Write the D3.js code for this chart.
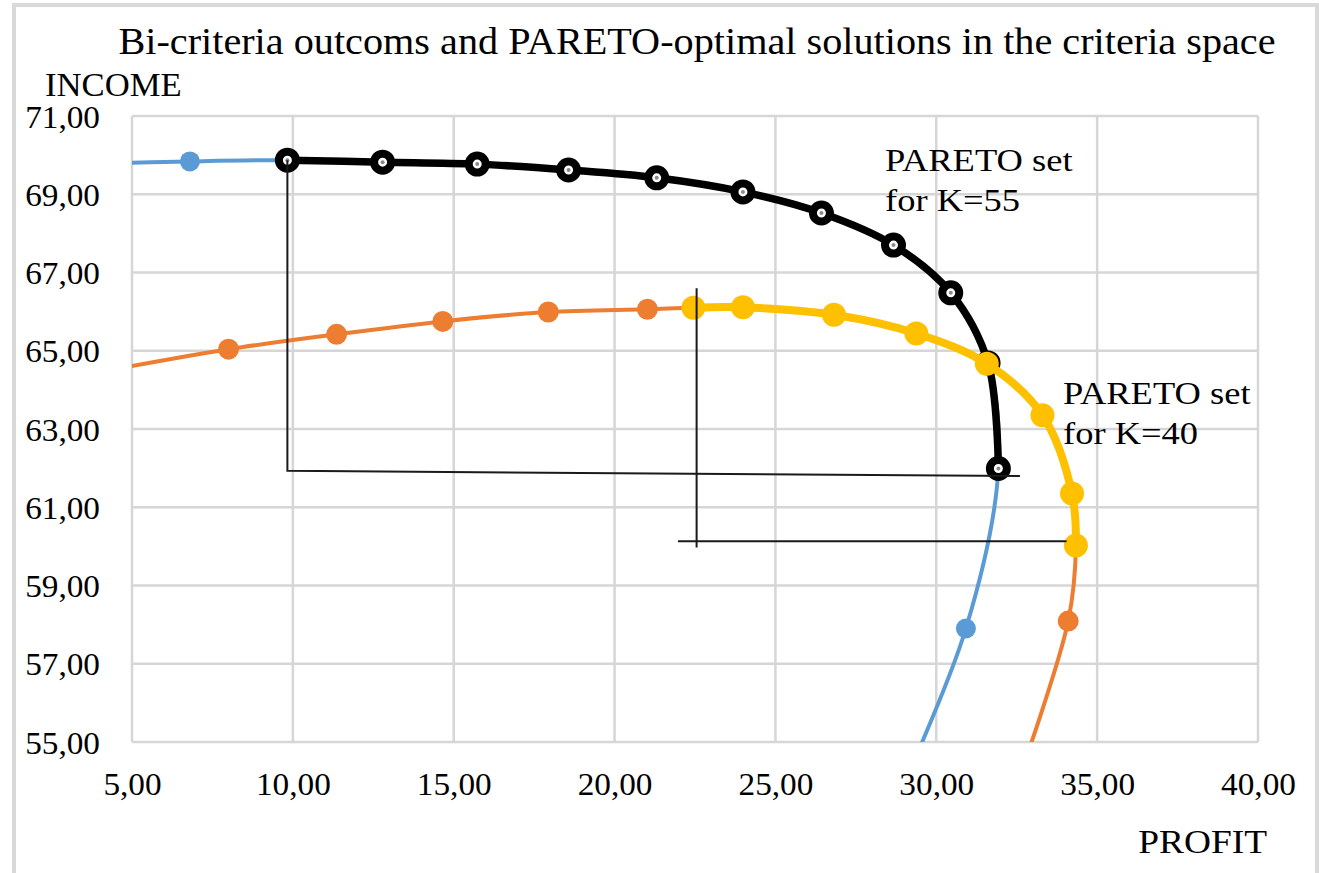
<!DOCTYPE html>
<html><head><meta charset="utf-8">
<script src="https://cdn.jsdelivr.net/npm/d3@7"></script>
<style>
html,body{margin:0;padding:0;background:#fff;}
svg{display:block;}
text{font-family:"Liberation Serif","Times New Roman",serif;fill:#000;}
</style></head><body>
<svg id="chart" width="1319" height="873"></svg>
<script>
// Axis ticks
const xTicks = [5, 10, 15, 20, 25, 30, 35, 40];
const yTicks = [55, 57, 59, 61, 63, 65, 67, 69, 71];

// Outcomes for K=55 (PROFIT, INCOME)
const k55Profit = [3.8, 6.80, 9.83, 12.79, 15.73, 18.57, 21.31, 23.99, 26.43, 28.67, 30.45, 31.61, 31.93, 30.92, 28.6];
const k55Income = [69.78, 69.84, 69.87, 69.82, 69.77, 69.62, 69.42, 69.06, 68.52, 67.70, 66.48, 64.69, 61.99, 57.90, 53.2];
// index range of the PARETO set inside the K=55 outcomes
const k55Pareto = [2, 12];

// Outcomes for K=40 (PROFIT, INCOME)
const k40Profit = [4.6, 8.00, 11.36, 14.66, 17.94, 21.02, 22.45, 23.99, 26.82, 29.38, 31.57, 33.30, 34.22, 34.34, 34.10, 32.5];
const k40Income = [64.55, 65.04, 65.42, 65.75, 65.99, 66.06, 66.10, 66.11, 65.92, 65.44, 64.67, 63.35, 61.35, 60.02, 58.09, 53.9];
const k40Pareto = [6, 13];

// Reference corners (guide lines)
const guide55Profit = [9.83, 9.83, 32.6];
const guide55Income = [69.87, 61.93, 61.80];
const guide40VProfit = [22.55, 22.55];
const guide40VIncome = [66.6, 59.97];
const guide40HProfit = [21.97, 34.05];
const guide40HIncome = [60.13, 60.13];

const titleText = "Bi-criteria outcoms and PARETO-optimal solutions in the criteria space";
const xTitle = "PROFIT";
const yTitle = "INCOME";
const label55 = ["PARETO set", "for K=55"];
const label40 = ["PARETO set", "for K=40"];

const svg = d3.select("#chart");
const W = 1319, H = 873;
const plot = {left: 132, right: 1258, top: 116, bottom: 742};

const x = d3.scaleLinear().domain([5, 40]).range([plot.left, plot.right]);
const y = d3.scaleLinear().domain([55, 71]).range([plot.bottom, plot.top]);
const fmt = d => d.toFixed(2).replace(".", ",");

// widen glyphs horizontally by a factor, keeping the anchor
function widen(sel, factor) {
  sel.each(function () {
    const len = this.getComputedTextLength();
    d3.select(this).attr("textLength", len * factor).attr("lengthAdjust", "spacingAndGlyphs");
  });
}

// outer frame
svg.append("rect").attr("x", 14).attr("y", 5).attr("width", W - 16).attr("height", H + 10)
  .attr("fill", "none").attr("stroke", "#d9d9d9").attr("stroke-width", 4);

// grid
const grid = svg.append("g");
grid.selectAll("line.v").data(xTicks).join("line")
  .attr("x1", d => x(d)).attr("x2", d => x(d))
  .attr("y1", plot.top).attr("y2", plot.bottom)
  .attr("stroke", "#d6d6d6").attr("stroke-width", 2.5);
grid.selectAll("line.h").data(yTicks).join("line")
  .attr("y1", d => y(d)).attr("y2", d => y(d))
  .attr("x1", plot.left).attr("x2", plot.right)
  .attr("stroke", "#d6d6d6").attr("stroke-width", 2.5);

// axes (labels only)
const xAxis = d3.axisBottom(x).tickValues(xTicks).tickFormat(fmt).tickSize(0).tickPadding(0);
const yAxis = d3.axisLeft(y).tickValues(yTicks).tickFormat(fmt).tickSize(0).tickPadding(0);
const gx = svg.append("g").attr("transform", `translate(0,${plot.bottom})`).call(xAxis);
const gy = svg.append("g").attr("transform", `translate(${plot.left},0)`).call(yAxis);
[gx, gy].forEach(g => { g.select(".domain").remove(); g.selectAll("text").attr("font-size", 32).attr("font-family", "Liberation Serif").attr("fill", "#000"); });
gx.selectAll("text").attr("dy", null).attr("y", 53);
gy.selectAll("text").attr("x", -32).attr("dy", "0.35em");
widen(gx.selectAll("text"), 1.04);
widen(gy.selectAll("text"), 1.04);

// titles
const tTitle = svg.append("text").attr("x", 697).attr("y", 54).attr("text-anchor", "middle").attr("font-size", 37).text(titleText);
const tY = svg.append("text").attr("x", 45).attr("y", 96).attr("font-size", 33).text(yTitle);
const tX = svg.append("text").attr("x", 1267).attr("y", 853).attr("text-anchor", "end").attr("font-size", 34).text(xTitle);
widen(tTitle, 1.087);
widen(tY, 1.05);
widen(tX, 1.1);

// clipped series
svg.append("clipPath").attr("id", "plotClip").append("rect")
  .attr("x", plot.left).attr("y", plot.top).attr("width", plot.right - plot.left).attr("height", plot.bottom - plot.top);
const series = svg.append("g").attr("clip-path", "url(#plotClip)");

const zip = (a, b) => a.map((v, i) => [v, b[i]]);
const line = d3.line().x(d => x(d[0])).y(d => y(d[1])).curve(d3.curveCatmullRom.alpha(0.5));

const k55 = zip(k55Profit, k55Income);
const k40 = zip(k40Profit, k40Income);
const p55 = k55.slice(k55Pareto[0], k55Pareto[1] + 1);
const p40 = k40.slice(k40Pareto[0], k40Pareto[1] + 1);

// K=55 outcomes (blue)
series.append("path").datum(k55).attr("d", line).attr("fill", "none").attr("stroke", "#5b9bd5").attr("stroke-width", 4);
series.selectAll("circle.k55").data(k55).join("circle").attr("class", "k55")
  .attr("cx", d => x(d[0])).attr("cy", d => y(d[1])).attr("r", 10).attr("fill", "#5b9bd5");

// K=40 outcomes (orange)
series.append("path").datum(k40).attr("d", line).attr("fill", "none").attr("stroke", "#ed7d31").attr("stroke-width", 4);
series.selectAll("circle.k40").data(k40).join("circle").attr("class", "k40")
  .attr("cx", d => x(d[0])).attr("cy", d => y(d[1])).attr("r", 10.5).attr("fill", "#ed7d31");

// PARETO set K=55 (black)
series.append("path").datum(p55).attr("d", line).attr("fill", "none").attr("stroke", "#000").attr("stroke-width", 7.5);
const m55 = series.selectAll("g.p55").data(p55).join("g").attr("class", "p55")
  .attr("transform", d => `translate(${x(d[0])},${y(d[1])})`);
m55.append("circle").attr("r", 8.5).attr("fill", "#fff").attr("stroke", "#000").attr("stroke-width", 8);
m55.append("circle").attr("r", 2).attr("fill", "#8a8a8a");

// PARETO set K=40 (yellow)
series.append("path").datum(p40).attr("d", line).attr("fill", "none").attr("stroke", "#ffc000").attr("stroke-width", 8);
series.selectAll("circle.p40").data(p40).join("circle").attr("class", "p40")
  .attr("cx", d => x(d[0])).attr("cy", d => y(d[1])).attr("r", 12).attr("fill", "#ffc000");

// guide lines
const guideLine = d3.line().x(d => x(d[0])).y(d => y(d[1]));
const guides = svg.append("g").attr("fill", "none").attr("stroke", "#1a1a1a").attr("stroke-width", 2);
guides.append("path").datum(zip(guide55Profit, guide55Income)).attr("d", guideLine);
guides.append("path").datum(zip(guide40VProfit, guide40VIncome)).attr("d", guideLine);
guides.append("path").datum(zip(guide40HProfit, guide40HIncome)).attr("d", guideLine);

// set labels
const lab = (lines, lx, ly) => {
  const t = svg.append("text").attr("font-size", 32);
  lines.forEach((s, i) => t.append("tspan").attr("x", lx).attr("y", ly + i * 40).text(s));
  widen(t.selectAll("tspan"), 1.14);
};
lab(label55, 885, 171);
lab(label40, 1063, 404);
</script>
</body></html>
